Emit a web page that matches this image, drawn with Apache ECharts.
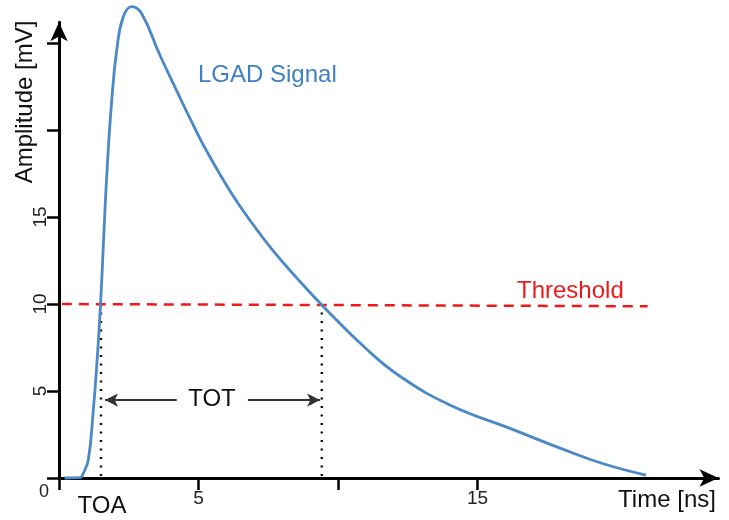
<!DOCTYPE html>
<html>
<head>
<meta charset="utf-8">
<script src="https://cdn.jsdelivr.net/npm/echarts@6/dist/echarts.min.js"></script>
<style>
html,body{margin:0;padding:0;background:#fff;}
#chart{width:729px;height:520px;}
</style>
</head>
<body>
<div id="chart"></div>
<script>
// ---- data ----
const timeNs = [0.2, 0.75, 0.87, 1.05, 1.23, 1.35, 1.49, 1.61, 1.73, 1.89, 2.07, 2.30, 2.61, 2.96, 3.62, 4.34, 4.81, 5.29, 6.13, 6.85, 7.68, 8.52, 9.42, 11.03, 12.22, 14.01, 16.28, 17.96, 19.51, 21.04];
const amplitudeMv = [0, 0.02, 0.27, 1.03, 3.9, 6.4, 10.0, 14.1, 17.9, 21.7, 24.6, 26.5, 27.1, 26.7, 24.3, 21.85, 20.3, 18.8, 16.5, 14.8, 13.05, 11.5, 9.95, 7.4, 5.85, 4.2, 2.78, 1.72, 0.82, 0.17];
const thresholdTime = [0.1, 21.1];
const thresholdValue = [10.0, 9.87];
const toaTime = 1.505;
const totTime = 9.42;
const totArrowLevel = 4.48;
const totArrowLeft = [4.22, 1.65];   // from, to (arrow head at "to")
const totArrowRight = [6.77, 9.36];
const xTickValues = [0, 5, 10, 15];
const xLabelValues = [5, 15];
const yTickValues = [0, 5, 10, 15, 20, 25];
const yLabelValues = [5, 10, 15];
const originLabel = '0';

const signalData = timeNs.map((t, i) => [t, amplitudeMv[i]]);
const thresholdData = thresholdTime.map((t, i) => [t, thresholdValue[i]]);

const FONT = 'Liberation Sans, Arial, Helvetica, sans-serif';
const chart = echarts.init(document.getElementById('chart'), null, {renderer: 'canvas'});

chart.setOption({
  animation: false,
  backgroundColor: '#ffffff',
  grid: {left: 59, right: 10.5, top: 22.2, bottom: 42, containLabel: false},
  xAxis: {
    type: 'value', min: 0, max: 23.64,
    splitLine: {show: false},
    axisLine: {show: true, lineStyle: {color: '#000', width: 3}, symbol: ['none', 'arrow'], symbolSize: [13, 19]},
    axisTick: {show: true, length: 12, lineStyle: {color: '#000', width: 2.5}, customValues: xTickValues},
    axisLabel: {show: true, customValues: xLabelValues, margin: 11, fontSize: 19, color: '#222', fontFamily: FONT}
  },
  yAxis: {
    type: 'value', min: 0, max: 26.2,
    splitLine: {show: false},
    axisLine: {show: true, lineStyle: {color: '#000', width: 3}, symbol: ['none', 'arrow'], symbolSize: [13, 19]},
    axisTick: {show: true, length: 12, lineStyle: {color: '#000', width: 2.5}, customValues: yTickValues},
    axisLabel: {show: true, customValues: yLabelValues, rotate: 90, margin: 9, fontSize: 19, color: '#222', fontFamily: FONT}
  },
  series: [
    {
      name: 'TOA', type: 'line', symbol: 'none', silent: true,
      data: [[toaTime, thresholdValue[0]], [toaTime, 0]],
      lineStyle: {color: '#111', width: 2.5, type: [2, 6.5], cap: 'butt'}
    },
    {
      name: 'TOT', type: 'line', symbol: 'none', silent: true,
      data: [[totTime, thresholdValue[0]], [totTime, 0]],
      lineStyle: {color: '#111', width: 2.5, type: [2, 6.5], cap: 'butt'}
    },
    {
      name: 'Threshold', type: 'line', symbol: 'none', silent: true,
      data: thresholdData,
      lineStyle: {color: '#f01818', width: 2.5, type: [10, 7]},
      markLine: {
        silent: true, animation: false,
        symbol: ['none', 'arrow'], symbolSize: [10, 13],
        label: {show: false},
        lineStyle: {color: '#333', width: 2, type: 'solid'},
        emphasis: {disabled: true},
        data: [
          [{coord: [totArrowLeft[0], totArrowLevel]}, {coord: [totArrowLeft[1], totArrowLevel]}],
          [{coord: [totArrowRight[0], totArrowLevel]}, {coord: [totArrowRight[1], totArrowLevel]}]
        ]
      }
    },
    {
      name: 'LGAD Signal', type: 'line', symbol: 'none', smooth: 0.45, clip: false, silent: true,
      data: signalData,
      lineStyle: {color: '#4a88c8', width: 2.8}
    }
  ],
  graphic: [
    {type: 'text', x: 25, y: 102, rotation: Math.PI / 2,
     style: {text: 'Amplitude [mV]', fill: '#111', fontSize: 24, fontFamily: FONT, align: 'center', verticalAlign: 'middle'}},
    {type: 'text', x: 667, y: 500,
     style: {text: 'Time [ns]', fill: '#111', fontSize: 24, fontFamily: FONT, align: 'center', verticalAlign: 'middle'}},
    {type: 'text', x: 102, y: 506,
     style: {text: 'TOA', fill: '#111', fontSize: 24, fontFamily: FONT, align: 'center', verticalAlign: 'middle'}},
    {type: 'text', x: 44, y: 492,
     style: {text: originLabel, fill: '#222', fontSize: 18, fontFamily: FONT, align: 'center', verticalAlign: 'middle'}},
    {type: 'text', x: 198, y: 75,
     style: {text: 'LGAD Signal', fill: '#3f80c4', fontSize: 24, fontFamily: FONT, align: 'left', verticalAlign: 'middle'}},
    {type: 'text', x: 517, y: 291,
     style: {text: 'Threshold', fill: '#f01818', fontSize: 24, fontFamily: FONT, align: 'left', verticalAlign: 'middle'}},
    {type: 'text', x: 212, y: 399,
     style: {text: 'TOT', fill: '#111', fontSize: 24, fontFamily: FONT, align: 'center', verticalAlign: 'middle'}}
  ]
});
</script>
</body>
</html>
